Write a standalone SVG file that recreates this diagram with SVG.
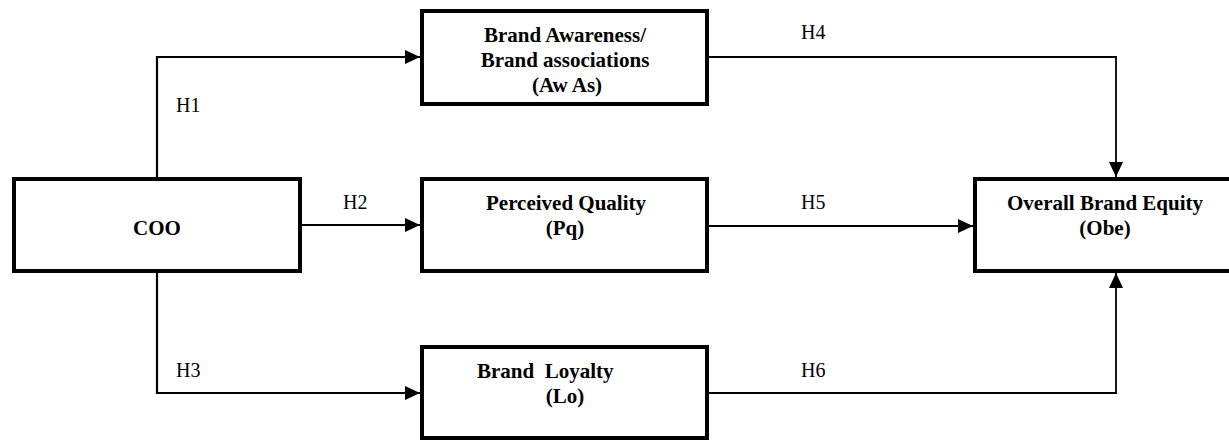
<svg xmlns="http://www.w3.org/2000/svg" width="1229" height="444" viewBox="0 0 1229 444">
<style>
.box{fill:#fff;stroke:#000;stroke-width:4}
.t{font-family:"Liberation Serif","Times New Roman",serif;font-size:21px;font-weight:bold;text-anchor:middle;fill:#000}
.h{font-family:"Liberation Serif","Times New Roman",serif;font-size:20px;fill:#000}
.c{fill:none;stroke:#000;stroke-width:2.2}
.c2{fill:none;stroke:#000;stroke-width:1.8}
</style>
<defs>
<marker id="ar" viewBox="0 0 15 14" refX="15" refY="7" markerWidth="15" markerHeight="14" markerUnits="userSpaceOnUse" orient="auto">
<path d="M0,0 L15,7 L0,14 z" fill="#000"/>
</marker>
</defs>
<g id="connectors">
<path class="c" d="M157,177 V57 H420" marker-end="url(#ar)"/>
<path class="c" d="M302,225 H420" marker-end="url(#ar)"/>
<path class="c" d="M157,273 V393 H420" marker-end="url(#ar)"/>
<path class="c2" d="M709,57 H1116 V177" marker-end="url(#ar)"/>
<path class="c" d="M709,226 H973" marker-end="url(#ar)"/>
<path class="c2" d="M709,393 H1116 V273" marker-end="url(#ar)"/>
<text class="h" x="176" y="112">H1</text>
<text class="h" x="343" y="209">H2</text>
<text class="h" x="176" y="377">H3</text>
<text class="h" x="801" y="39">H4</text>
<text class="h" x="801" y="209">H5</text>
<text class="h" x="801" y="377">H6</text>
</g>
<g id="coo">
<rect class="box" x="14" y="179" width="286" height="92"/>
<text class="t" x="157" y="235">COO</text>
</g>
<g id="awas">
<rect class="box" x="422" y="11" width="285" height="93"/>
<text class="t" x="565" y="42">Brand Awareness/</text>
<text class="t" x="565" y="67">Brand associations</text>
<text class="t" x="567" y="92">(Aw As)</text>
</g>
<g id="pq">
<rect class="box" x="422" y="179" width="285" height="92"/>
<text class="t" x="566" y="210">Perceived Quality</text>
<text class="t" x="565" y="235">(Pq)</text>
</g>
<g id="lo">
<rect class="box" x="422" y="347" width="285" height="91"/>
<text class="t" x="477" y="378" style="text-anchor:start" xml:space="preserve">Brand  Loyalty</text>
<text class="t" x="565" y="403">(Lo)</text>
</g>
<g id="obe">
<rect class="box" x="975" y="179" width="300" height="92"/>
<text class="t" x="1105" y="210">Overall Brand Equity</text>
<text class="t" x="1105" y="235">(Obe)</text>
</g>
</svg>
